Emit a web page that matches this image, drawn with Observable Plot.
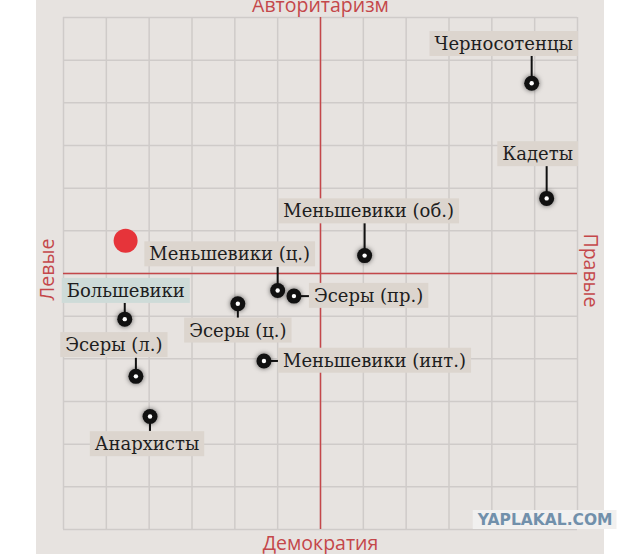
<!DOCTYPE html>
<html>
<head>
<meta charset="utf-8">
<script src="https://cdn.jsdelivr.net/npm/d3@7"></script>
<script src="https://cdn.jsdelivr.net/npm/@observablehq/plot@0.6"></script>
<style>
  html, body { margin: 0; padding: 0; background: #fff; }
  #chart svg g[aria-description="party-dot"] circle { filter: drop-shadow(0 0 2.5px rgba(0,0,0,0.6)); }
</style>
</head>
<body>
<div id="chart"></div>
<script>
// ---- data ----
const parties   = ["Черносотенцы", "Кадеты", "Меньшевики (об.)", "Меньшевики (ц.)", "Эсеры (пр.)",
                   "Эсеры (ц.)", "Меньшевики (инт.)", "Большевики", "Эсеры (л.)", "Анархисты"];
const leftRight = [4.93, 5.28, 1.03, -1.00, -0.62, -1.93, -1.32, -4.57, -4.31, -3.98];
const authority = [4.46, 1.76, 0.42, -0.40, -0.53, -0.71, -2.05, -1.07, -2.41, -3.35];
const markerX = [-4.55];
const markerY = [0.77];
const gridTicks = [-6, -5, -4, -3, -2, -1, 0, 1, 2, 3, 4, 5, 6];
const axisLabels = ["Авторитаризм", "Демократия", "Левые", "Правые"];
const watermark = ["YAPLAKAL.COM"];

const rows = parties.map((name, i) => ({name, x: leftRight[i], y: authority[i]}));
const marker = markerX.map((x, i) => ({x, y: markerY[i]}));

// ---- label layout (pixels) ----
const layout = {
  "Черносотенцы":      {side: "above", lead: 27, dx: -28, dy: -39},
  "Кадеты":            {side: "above", lead: 32, dx: -9,  dy: -44},
  "Меньшевики (об.)":  {side: "above", lead: 33, dx: 4,   dy: -44},
  "Меньшевики (ц.)":   {side: "above", lead: 23, dx: -48, dy: -36},
  "Эсеры (пр.)":       {side: "right", lead: 17, dx: 20,  dy: 0},
  "Эсеры (ц.)":        {side: "below", lead: 15, dx: 0,   dy: 27},
  "Меньшевики (инт.)": {side: "right", lead: 16, dx: 19,  dy: 0},
  "Большевики":        {side: "above", lead: 16, dx: 1,   dy: -28},
  "Эсеры (л.)":        {side: "above", lead: 18, dx: -22, dy: -31},
  "Анархисты":         {side: "below", lead: 15, dx: -3,  dy: 28}
};

const RED = "#c4474a";
const serif = "'DejaVu Serif', serif";
const sans = "'Open Sans', sans-serif";

const leaderMarks = rows.map(d => {
  const L = layout[d.name];
  if (L.side === "above") return Plot.ruleX([d], {x: "x", y1: "y", y2: "y", insetTop: -L.lead, stroke: "#111", strokeWidth: 2});
  if (L.side === "below") return Plot.ruleX([d], {x: "x", y1: "y", y2: "y", insetBottom: -L.lead, stroke: "#111", strokeWidth: 2});
  return Plot.ruleY([d], {y: "y", x1: "x", x2: "x", insetRight: -L.lead, stroke: "#111", strokeWidth: 2});
});

const labelMarks = rows.map(d => {
  const L = layout[d.name];
  return Plot.text([d], {
    x: "x", y: "y", text: "name", dx: L.dx, dy: L.dy,
    textAnchor: L.side === "right" ? "start" : "middle",
    fontSize: 18, fontFamily: serif, fill: "#1e1e1e", ariaDescription: "party-label"
  });
});

const plot = Plot.plot({
  width: 640,
  height: 554,
  marginLeft: 63,
  marginRight: 63,
  marginTop: 17,
  marginBottom: 25,
  style: "background: linear-gradient(to right, #fff 0px, #fff 36px, #e7e3e0 36px, #e7e3e0 604px, #fff 604px); overflow: visible;",
  x: {domain: [-6, 6], axis: null},
  y: {domain: [-6, 6], axis: null},
  marks: [
    Plot.ruleX(gridTicks, {stroke: "#cfcbc9", strokeWidth: 1.5}),
    Plot.ruleY(gridTicks, {stroke: "#cfcbc9", strokeWidth: 1.5}),
    Plot.ruleX([0], {stroke: RED, strokeWidth: 1.5}),
    Plot.ruleY([0], {stroke: RED, strokeWidth: 1.5}),
    ...leaderMarks,
    ...labelMarks,
    Plot.dot(rows, {x: "x", y: "y", r: 7.5, fill: "#111", stroke: "none", ariaDescription: "party-dot"}),
    Plot.dot(rows, {x: "x", y: "y", r: 2.2, fill: "#fff", stroke: "none"}),
    Plot.dot(marker, {x: "x", y: "y", r: 12, fill: "#e6343a", stroke: "none"}),
    Plot.text([axisLabels[0]], {frameAnchor: "top", lineAnchor: "bottom", dy: -6, fontSize: 19.5, fontFamily: sans, fill: RED}),
    Plot.text([axisLabels[1]], {frameAnchor: "bottom", lineAnchor: "bottom", dy: 20, fontSize: 19.5, fontFamily: sans, fill: RED}),
    Plot.text([axisLabels[2]], {frameAnchor: "left", textAnchor: "middle", rotate: -90, lineAnchor: "bottom", dx: -10, dy: -4, fontSize: 19.5, fontFamily: sans, fill: RED}),
    Plot.text([axisLabels[3]], {frameAnchor: "right", textAnchor: "middle", rotate: 90, lineAnchor: "bottom", dx: 6, dy: -3, fontSize: 19.5, fontFamily: sans, fill: RED}),
    Plot.text(watermark, {frameAnchor: "bottom-right", textAnchor: "end", dx: 35, dy: -5, fontSize: 15.5, fontWeight: "bold", fontFamily: "'DejaVu Sans', sans-serif", fill: "#7190ab", ariaDescription: "watermark"})
  ]
});

document.getElementById("chart").appendChild(plot);

// label backgrounds
function addBoxes(selector, height, padX, colorFor) {
  plot.querySelectorAll(selector + " text").forEach(t => {
    const bb = t.getBBox();
    const r = document.createElementNS("http://www.w3.org/2000/svg", "rect");
    const cy = bb.y + bb.height / 2;
    r.setAttribute("x", bb.x - padX);
    r.setAttribute("y", cy - height / 2);
    r.setAttribute("width", bb.width + 2 * padX);
    r.setAttribute("height", height);
    r.setAttribute("fill", colorFor(t.textContent));
    const tr = t.getAttribute("transform");
    if (tr) r.setAttribute("transform", tr);
    t.parentNode.insertBefore(r, t);
  });
}
addBoxes('g[aria-description="party-label"]', 25, 5, s => s === "Большевики" ? "#cedbd8" : "#dcd5ce");
addBoxes('g[aria-description="watermark"]', 19, 4, () => "#f1f0ef");
</script>
</body>
</html>
